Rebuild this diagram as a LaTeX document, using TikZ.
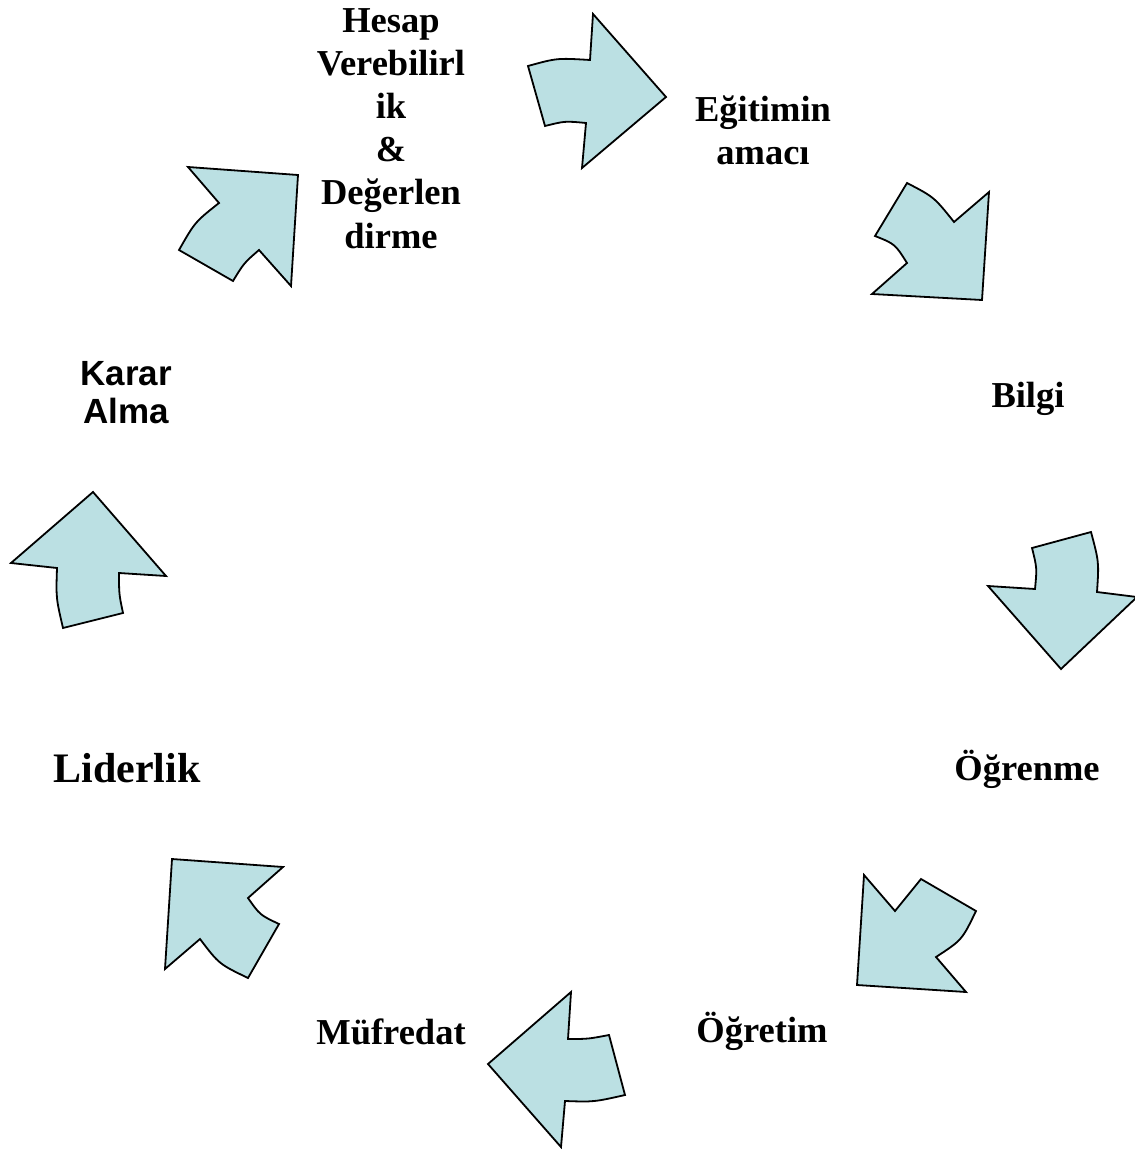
\documentclass[tikz,border=0pt]{standalone}
\usepackage{fontspec}
\setmainfont{Liberation Serif}
\newfontfamily\sansarial{Liberation Sans}
\definecolor{arrowfill}{RGB}{187,224,227}
\begin{document}
\begin{tikzpicture}[x=1pt,y=-1pt,
  blockarrow/.style={draw=black, fill=arrowfill, line width=1.8pt, line join=miter},
  lbl/.style={font=\bfseries\fontsize{36.5}{43}\selectfont, inner sep=0pt, anchor=base},
  lblbig/.style={font=\bfseries\fontsize{42}{48}\selectfont, inner sep=0pt, anchor=base},
  lblsans/.style={font=\sansarial\bfseries\fontsize{35}{42}\selectfont, inner sep=0pt, anchor=base}]
\useasboundingbox[fill=white] (0,0) rectangle (1134,1150);

% labels
\node[lbl] (h1) at (391,33) {Hesap};
\node[lbl] (h2) at (391,76) {Verebilirl};
\node[lbl] (h3) at (391,119) {ik};
\node[lbl] (h4) at (391,162) {\&};
\node[lbl] (h5) at (391,205) {Değerlen};
\node[lbl] (h6) at (391,248) {dirme};
\node[lbl] (e1) at (763,122) {Eğitimin};
\node[lbl] (e2) at (763,165) {amacı};
\node[lbl] (bilgi) at (1028,407) {Bilgi};
\node[lbl] (ogrenme) at (1027,780) {Öğrenme};
\node[lbl] (ogretim) at (762,1042) {Öğretim};
\node[lbl] (mufredat) at (391,1044) {Müfredat};
\node[lblbig] (liderlik) at (127,782) {Liderlik};
\node[lblsans] (karar) at (126,385) {Karar};
\node[lblsans] (alma) at (126,423) {Alma};

% block arrows
\draw[blockarrow] (528,66) .. controls (557,58) .. (590,60) -- (593,14) -- (666,97) -- (582,168) -- (586,123) .. controls (565,121) .. (545,126) -- cycle;
\draw[blockarrow] (907,183) .. controls (934,197) .. (954,222) -- (989,192) -- (982,300) -- (872,294) -- (907,263) .. controls (895,244) .. (875,236) -- cycle;
\draw[blockarrow] (1032,548) -- (1091,532) .. controls (1099,562) .. (1097,592) -- (1137,597) -- (1061,669) -- (988,586) -- (1035,589) .. controls (1037,568) .. (1032,548) -- cycle;
\draw[blockarrow] (864,875) -- (895,911) -- (921,879) -- (976,911) .. controls (962,940) .. (936,957) -- (966,992) -- (857,985) -- cycle;
\draw[blockarrow] (571,992) -- (568,1039) .. controls (588,1039) .. (609,1035) -- (625,1095) .. controls (594,1102) .. (565,1101) -- (561,1147) -- (488,1064) -- cycle;
\draw[blockarrow] (172,859) -- (283,867) -- (248,898) .. controls (260,915) .. (279,924) -- (248,978) .. controls (219,964) .. (200,939) -- (165,969) -- cycle;
\draw[blockarrow] (93,492) -- (166,576) -- (119,573) .. controls (119,594) .. (123,613) -- (63,628) .. controls (56,598) .. (57,568) -- (11,563) -- cycle;
\draw[blockarrow] (188,167) -- (298,175) -- (291,286) -- (259,250) .. controls (244,263) .. (233,281) -- (179,250) .. controls (195,222) .. (219,203) -- cycle;
\end{tikzpicture}
\end{document}
